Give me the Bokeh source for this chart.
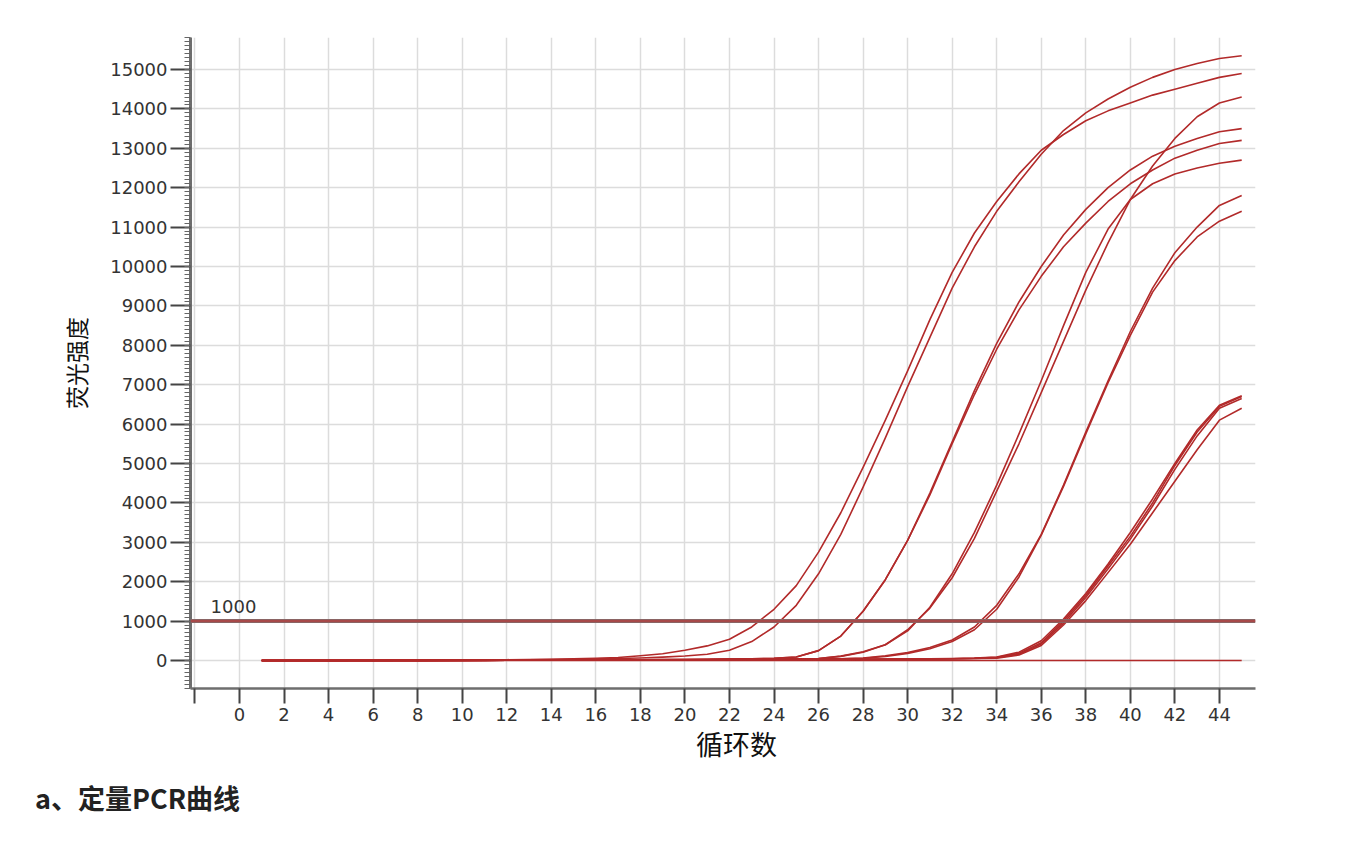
from bokeh.plotting import figure
from bokeh.models import Range1d, FixedTicker, Label, Div, Span
from bokeh.layouts import column
from bokeh.embed import file_html
from bokeh.resources import INLINE

# ---------------- data ----------------
cycles = list(range(1, 46))
threshold = 1000
x_ticks = list(range(-2, 46, 2))
y_ticks = list(range(0, 16000, 1000))
y_minor = list(range(-700, 15900, 100))

# amplification curves (fluorescence per cycle 1..45)
curve_a = [0, 0, 0, 0, 5, 5, 10, 10, 15, 15,
           20, 20, 25, 30, 40, 55, 75, 120, 170, 260,
           370, 540, 850, 1300, 1900, 2750, 3750, 4900, 6100, 7350,
           8650, 9850, 10850, 11650, 12350, 12950, 13350, 13700, 13950, 14150,
           14350, 14500, 14650, 14800, 14900]
curve_b = [0, 0, 0, 0, 0, 0, 5, 5, 10, 10,
           15, 15, 20, 25, 30, 40, 50, 65, 85, 115,
           160, 260, 480, 850, 1400, 2200, 3200, 4400, 5650, 6950,
           8200, 9450, 10500, 11400, 12150, 12850, 13450, 13900, 14250, 14550,
           14800, 15000, 15150, 15280, 15350]
curve_c1 = [0, 0, 0, 0, 0, 0, 0, 0, 5, 5,
            5, 10, 10, 10, 15, 15, 20, 20, 25, 25,
            30, 35, 40, 55, 90, 250, 620, 1250, 2050, 3050,
            4250, 5550, 6850, 8050, 9100, 10000, 10800, 11450, 12000, 12450,
            12800, 13050, 13250, 13420, 13500]
curve_c2 = [0, 0, 0, 0, 0, 0, 0, 0, 5, 5,
            5, 10, 10, 10, 15, 15, 20, 20, 25, 25,
            30, 35, 40, 55, 90, 250, 620, 1250, 2050, 3050,
            4200, 5500, 6750, 7900, 8900, 9750, 10500, 11100, 11650, 12100,
            12450, 12750, 12950, 13120, 13200]
curve_d1 = [0, 0, 0, 0, 0, 0, 0, 0, 0, 5,
            5, 5, 10, 10, 10, 15, 15, 20, 20, 25,
            25, 30, 30, 35, 40, 50, 110, 220, 400, 750,
            1350, 2200, 3250, 4450, 5750, 7100, 8500, 9850, 10950, 11700,
            12100, 12350, 12500, 12620, 12700]
curve_d2 = [0, 0, 0, 0, 0, 0, 0, 0, 0, 5,
            5, 5, 10, 10, 10, 15, 15, 20, 20, 20,
            20, 25, 30, 35, 40, 50, 105, 210, 400, 780,
            1330, 2100, 3100, 4300, 5500, 6800, 8100, 9400, 10600, 11700,
            12550, 13250, 13800, 14150, 14300]
curve_e1 = [0, 0, 0, 0, 0, 0, 0, 0, 0, 0,
            5, 5, 5, 10, 10, 10, 15, 15, 15, 20,
            20, 25, 25, 30, 30, 35, 45, 60, 120, 200,
            330, 520, 850, 1400, 2200, 3200, 4450, 5800, 7100, 8350,
            9450, 10350, 11000, 11550, 11800]
curve_e2 = [0, 0, 0, 0, 0, 0, 0, 0, 0, 0,
            5, 5, 5, 10, 10, 10, 15, 15, 15, 20,
            20, 25, 25, 30, 30, 35, 40, 55, 100, 180,
            300, 480, 780, 1300, 2120, 3180, 4420, 5750, 7050, 8250,
            9350, 10150, 10750, 11150, 11400]
curve_f1 = [0, 0, 0, 0, 0, 0, 0, 0, 0, 0,
            0, 5, 5, 5, 5, 10, 10, 10, 10, 15,
            15, 15, 20, 20, 20, 25, 25, 30, 30, 35,
            40, 45, 55, 80, 180, 450, 1000, 1650, 2400, 3150,
            4000, 4950, 5800, 6450, 6700]
curve_f2 = [0, 0, 0, 0, 0, 0, 0, 0, 0, 0,
            0, 5, 5, 5, 5, 10, 10, 10, 10, 15,
            15, 15, 20, 20, 20, 25, 25, 30, 35, 40,
            45, 50, 60, 90, 210, 500, 1050, 1700, 2450, 3250,
            4100, 5000, 5850, 6480, 6720]
curve_f3 = [0, 0, 0, 0, 0, 0, 0, 0, 0, 0,
            0, 5, 5, 5, 5, 10, 10, 10, 10, 15,
            15, 15, 20, 20, 20, 25, 25, 30, 30, 35,
            40, 45, 50, 70, 160, 420, 950, 1600, 2330, 3080,
            3920, 4850, 5700, 6400, 6650]
curve_f4 = [0, 0, 0, 0, 0, 0, 0, 0, 0, 0,
            0, 5, 5, 5, 5, 10, 10, 10, 10, 15,
            15, 15, 20, 20, 20, 25, 25, 30, 30, 35,
            40, 45, 50, 60, 140, 380, 900, 1520, 2230, 2950,
            3750, 4550, 5350, 6100, 6400]
curve_nc = [0, 0, 0, 0, 0, 0, 0, 0, 0, 0,
            0, 0, 0, 0, 0, 0, 0, 0, 0, 0,
            0, 0, 0, 0, 0, 0, 0, 0, 0, 0,
            0, 0, 0, 0, 0, 0, 0, 0, 0, 0,
            0, 0, 0, 0, 0]

curves = [curve_nc, curve_a, curve_b, curve_c1, curve_c2, curve_d1, curve_d2,
          curve_e1, curve_e2, curve_f1, curve_f2, curve_f3, curve_f4]

y_label = "荧光强度"
x_label = "\u3000循环数"
caption = "a、定量PCR曲线"

# ---------------- styling ----------------
RED = "#b22a2a"
GRID = "#dcdcdc"
AXIS = "#6e6e6e"
TICK_FONT = "DejaVu Sans"

p = figure(width=1295, height=768, output_backend="svg", toolbar_location=None,
           x_range=Range1d(-2.2, 45.62), y_range=Range1d(-711, 15812),
           min_border_left=190, min_border_right=40,
           min_border_top=37, min_border_bottom=80)
p.outline_line_color = None
p.background_fill_color = "white"
p.border_fill_color = "white"

for c in curves:
    p.line(cycles, c, line_color=RED, line_width=1.6, line_join="round")

p.add_layout(Span(location=threshold, dimension="width",
                  line_color="#8a6464", line_width=4))
p.add_layout(Span(location=threshold, dimension="width",
                  line_color="#b04040", line_width=1.5))
p.add_layout(Label(x=p.x_range.start + 0.9, y=threshold, y_offset=8,
                   text=str(threshold), text_font="DejaVu Sans",
                   text_font_size="18px", text_color="#333333",
                   text_baseline="bottom"))

# y axis
p.yaxis.ticker = FixedTicker(ticks=y_ticks, minor_ticks=y_minor)
p.yaxis.major_tick_out = 20
p.yaxis.major_tick_in = 0
p.yaxis.minor_tick_out = 6
p.yaxis.minor_tick_in = 0
p.yaxis.major_tick_line_width = 2
p.yaxis.major_tick_line_color = "#444444"
p.yaxis.minor_tick_line_color = "#666666"
p.yaxis.axis_line_width = 3
p.yaxis.axis_line_color = AXIS
p.yaxis.major_label_text_font = TICK_FONT
p.yaxis.major_label_text_font_size = "18px"
p.yaxis.major_label_text_color = "#333333"
p.yaxis.major_label_standoff = 3
p.yaxis.axis_label = y_label
p.yaxis.axis_label_text_font = "Noto Sans CJK SC"
p.yaxis.axis_label_text_font_size = "23px"
p.yaxis.axis_label_text_font_style = "normal"
p.yaxis.axis_label_text_color = "#111111"
p.yaxis.axis_label_standoff = 14

# x axis
p.xaxis.ticker = FixedTicker(ticks=x_ticks, minor_ticks=[])
p.xaxis.major_label_overrides = {-2: ""}
p.xaxis.major_tick_out = 15
p.xaxis.major_tick_in = 0
p.xaxis.major_tick_line_width = 2
p.xaxis.major_tick_line_color = "#444444"
p.xaxis.axis_line_width = 2.5
p.xaxis.axis_line_color = AXIS
p.xaxis.major_label_text_font = TICK_FONT
p.xaxis.major_label_text_font_size = "18px"
p.xaxis.major_label_text_color = "#333333"
p.xaxis.major_label_standoff = 4
p.xaxis.axis_label = x_label
p.xaxis.axis_label_text_font = "Noto Sans CJK SC"
p.xaxis.axis_label_text_font_size = "27px"
p.xaxis.axis_label_text_font_style = "normal"
p.xaxis.axis_label_text_color = "#111111"
p.xaxis.axis_label_standoff = 0

p.xgrid.ticker = FixedTicker(ticks=x_ticks)
p.ygrid.ticker = FixedTicker(ticks=y_ticks)
p.xgrid.grid_line_color = GRID
p.ygrid.grid_line_color = GRID
p.xgrid.grid_line_width = 1.5
p.ygrid.grid_line_width = 1.5

cap = Div(text=caption, margin=(16, 0, 0, 35),
          styles={"font-family": "Noto Sans CJK SC", "font-size": "27px",
                  "font-weight": "bold", "color": "#222222", "line-height": "1"})

layout = column(p, cap, spacing=0)
open("out.html", "w").write(file_html(layout, INLINE))
